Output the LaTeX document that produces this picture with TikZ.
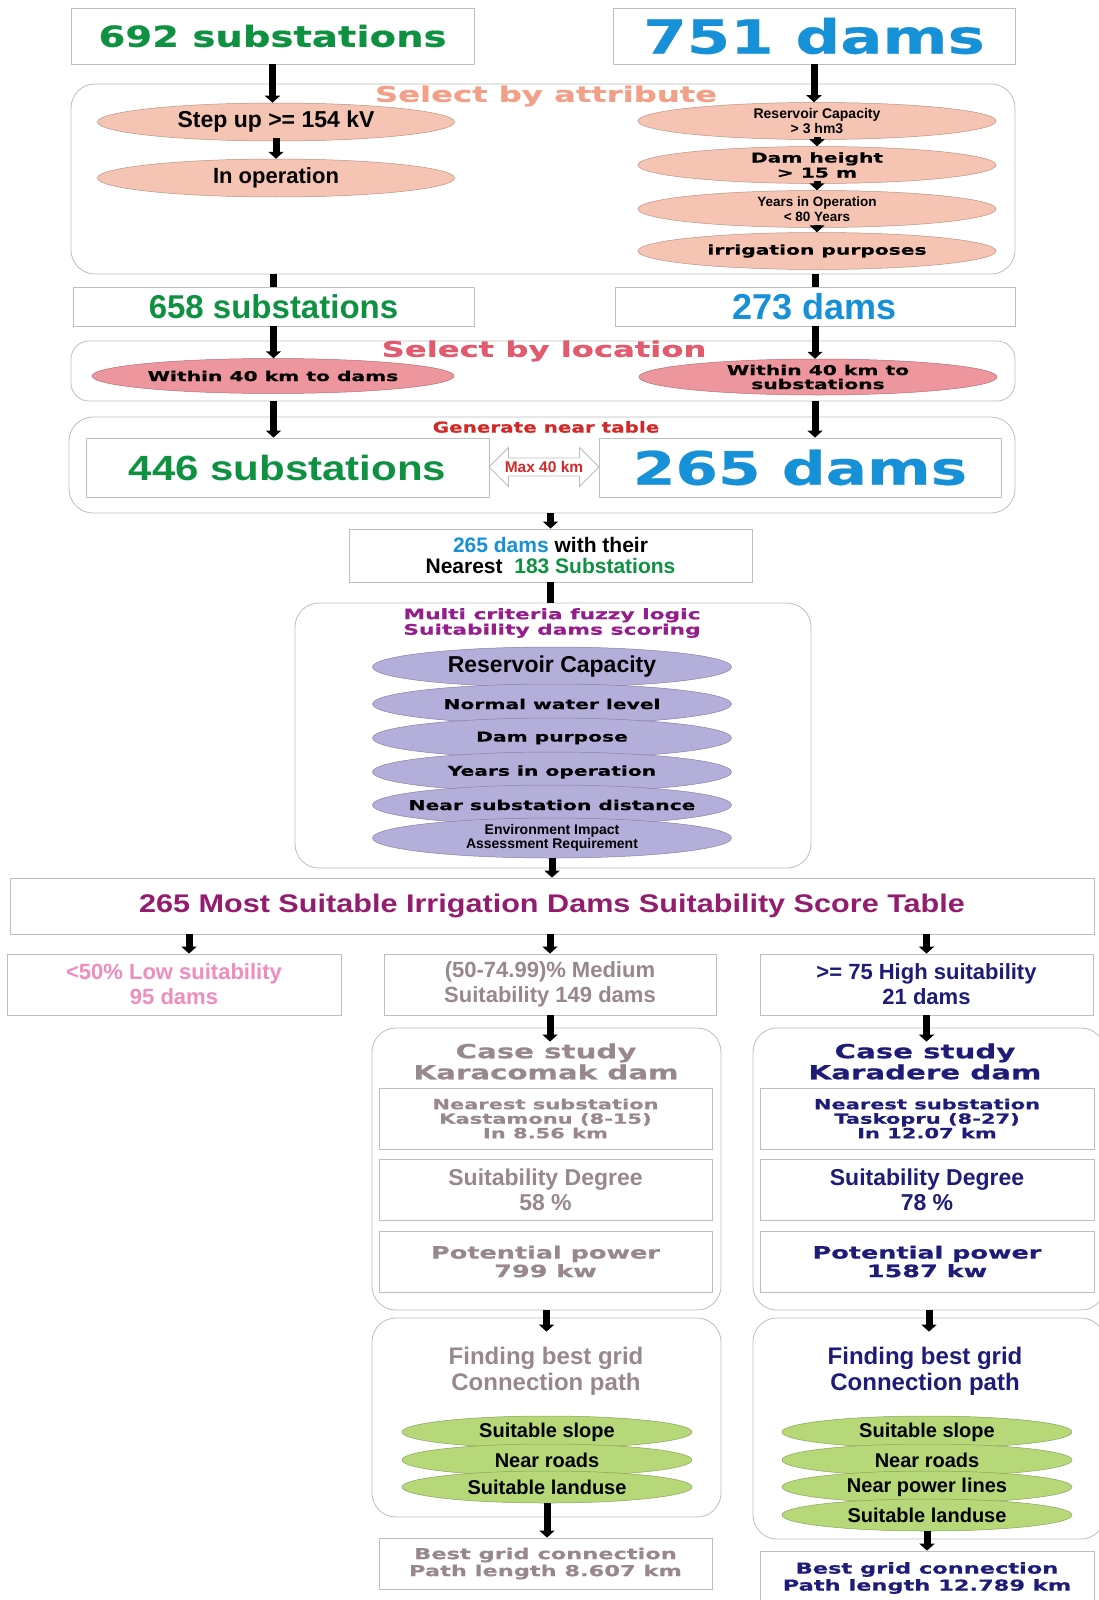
\documentclass[tikz,border=0pt]{standalone}
\usepackage{fontspec}
\setmainfont{Liberation Sans}
\newfontfamily\widefnt[FakeStretch=1.5, FakeBold=0.5]{DejaVu Sans}
\newfontfamily\midfnt[FakeStretch=1.33, FakeBold=0.5]{DejaVu Sans}
\newfontfamily\lswfnt[FakeStretch=1.2]{Liberation Sans}
\usetikzlibrary{arrows.meta, positioning, shapes.geometric, shapes.arrows}

\newcommand{\fsz}[2]{\fontsize{#1}{#2}\selectfont}

\definecolor{subgreen}{RGB}{14,146,66}
\definecolor{damblue}{RGB}{22,144,214}
\definecolor{attrtitle}{RGB}{243,160,136}
\definecolor{attrfill}{RGB}{246,196,178}
\definecolor{loctitle}{RGB}{226,90,110}
\definecolor{locfill}{RGB}{238,150,158}
\definecolor{nearred}{RGB}{210,40,40}
\definecolor{fuzzy}{RGB}{150,30,140}
\definecolor{scorepurple}{RGB}{148,28,110}
\definecolor{lavender}{RGB}{180,174,218}
\definecolor{lowpink}{RGB}{240,140,190}
\definecolor{medgray}{RGB}{152,136,140}
\definecolor{highnavy}{RGB}{30,28,120}
\definecolor{leafgreen}{RGB}{182,216,120}
\definecolor{boxgray}{RGB}{190,190,190}

\begin{document}
\begin{tikzpicture}[x=1pt, y=-1pt, >=Stealth,
  box/.style={draw=boxgray, fill=white, line width=0.8pt, inner sep=0pt, align=center},
  panel/.style={draw=boxgray, fill=white, line width=0.8pt, rounded corners=24pt, inner sep=0pt},
  oval/.style={ellipse, draw=#1!75!black, line width=0.5pt, fill=#1, inner xsep=-60pt, inner ysep=-5pt, align=center},
  heading/.style={align=center, inner sep=0pt},
  flow/.style={line width=7pt, -{Triangle[width=15pt, length=7pt]}},
  link/.style={line width=7pt}]

\useasboundingbox (0,0) rectangle (1099,1600);
\fill[white] (0,0) rectangle (1099,1600);

% starting datasets
\node[box, minimum width=403, minimum height=56, text=subgreen, font=\midfnt\bfseries\fsz{29}{30}] (s692) at (272.5,36) {692 substations};
\node[box, minimum width=402, minimum height=56, text=damblue, font=\midfnt\bfseries\fsz{47}{48}] (d751) at (814,36) {751 dams};

% select by attribute
\node[panel, minimum width=944, minimum height=190] (attr) at (543,179) {};
\node[heading, text=attrtitle, font=\widefnt\bfseries\fsz{21.5}{22}] (attrT) at (546,96) {Select by attribute};
\node[oval=attrfill, minimum width=357, minimum height=38, font=\bfseries\fsz{23}{24}] (stepup) at (276,122) {Step up >= 154 kV};
\node[oval=attrfill, minimum width=357, minimum height=38, font=\bfseries\fsz{22}{23}] (inop) at (276,178) {In operation};
\node[oval=attrfill, minimum width=358, minimum height=37, font=\bfseries\fsz{14}{15}] (rescap) at (817,121) {Reservoir Capacity\\> 3 hm3};
\node[oval=attrfill, minimum width=358, minimum height=37, font=\widefnt\bfseries\fsz{13.5}{15}] (damh) at (817,165) {Dam height\\> 15 m};
\node[oval=attrfill, minimum width=358, minimum height=37, font=\bfseries\fsz{13.5}{15}] (yrsop) at (817,209) {Years in Operation\\< 80 Years};
\node[oval=attrfill, minimum width=358, minimum height=37, font=\widefnt\bfseries\fsz{13.5}{15}] (irrig) at (817,251) {irrigation purposes};

\node[box, minimum width=401, minimum height=39, text=subgreen, font=\bfseries\fsz{33}{34}] (s658) at (273.5,306.5) {658 substations};
\node[box, minimum width=400, minimum height=39, text=damblue, font=\bfseries\fsz{36}{37}] (d273) at (815,306.5) {273 dams};

% select by location
\node[panel, minimum width=944, minimum height=60, rounded corners=18pt] (loc) at (543,371) {};
\node[heading, text=loctitle, font=\widefnt\bfseries\fsz{21.5}{22}] (locT) at (544,351) {Select by location};
\node[oval=locfill, minimum width=362, minimum height=35, font=\widefnt\bfseries\fsz{13.5}{14}] (wl) at (273,376) {Within 40 km to dams};
\node[oval=locfill, minimum width=358, minimum height=36, font=\widefnt\bfseries\fsz{13.5}{14}] (wr) at (818,377) {Within 40 km to\\substations};

% near table
\node[panel, minimum width=946, minimum height=96] (near) at (542,465) {};
\node[heading, text=nearred, font=\midfnt\bfseries\fsz{15}{16}] (nearT) at (546,427) {Generate near table};
\node[box, minimum width=403, minimum height=59, text=subgreen, font=\lswfnt\bfseries\fsz{35}{36}] (s446) at (287.5,467.5) {446 substations};
\node[box, minimum width=402, minimum height=59, text=damblue, font=\midfnt\bfseries\fsz{46}{47}] (d265) at (800,467.5) {265 dams};
\node[double arrow, draw=boxgray, fill=white, line width=0.8pt, minimum height=110,
  double arrow head extend=10.5pt, inner xsep=-18pt, inner ysep=3pt, text=nearred,
  font=\bfseries\fsz{15.5}{16}] (maxkm) at (544,467) {Max 40 km};

\node[box, minimum width=403, minimum height=53, font=\bfseries\fsz{21}{21}] (nearest) at (550.5,555.5)
  {{\color{damblue}265 dams} with their\\Nearest\ \ {\color{subgreen}183 Substations}};

% fuzzy scoring
\node[panel, minimum width=516, minimum height=265] (multi) at (553,735.5) {};
\node[heading, text=fuzzy, font=\widefnt\bfseries\fsz{14.5}{15.5}] (multiT) at (552,623) {Multi criteria fuzzy logic\\Suitability dams scoring};
\node[oval=lavender, minimum width=359, minimum height=40, font=\bfseries\fsz{23}{24}] (rescapB) at (552,667) {Reservoir Capacity};
\node[oval=lavender, minimum width=359, minimum height=40, font=\widefnt\bfseries\fsz{13.5}{15}] (waterlvl) at (552,704) {Normal water level};
\node[oval=lavender, minimum width=359, minimum height=40, font=\widefnt\bfseries\fsz{13.5}{15}] (purpose) at (552,738) {Dam purpose};
\node[oval=lavender, minimum width=359, minimum height=40, font=\widefnt\bfseries\fsz{13.5}{15}] (yrsopB) at (552,772) {Years in operation};
\node[oval=lavender, minimum width=359, minimum height=40, font=\widefnt\bfseries\fsz{13.5}{15}] (subdist) at (552,805) {Near substation distance};
\node[oval=lavender, minimum width=359, minimum height=40, font=\bfseries\fsz{14}{14}] (envir) at (552,838) {Environment Impact\\Assessment Requirement};

% score table and classes
\node[box, minimum width=1084, minimum height=56, text=scorepurple, font=\lswfnt\bfseries\fsz{25.5}{26}] (score) at (552,906)
  {265 Most Suitable Irrigation Dams Suitability Score Table};
\node[box, minimum width=334, minimum height=61, text=lowpink, font=\bfseries\fsz{22}{25}] (low) at (174,984.5) {<50\% Low suitability\\95 dams};
\node[box, minimum width=332, minimum height=61, text=medgray, font=\bfseries\fsz{22}{25}] (med) at (550,984.5) {(50-74.99)\% Medium\\Suitability 149 dams};
\node[box, minimum width=333, minimum height=61, text=highnavy, font=\bfseries\fsz{22}{25}] (high) at (926.5,984.5) {>= 75 High suitability\\21 dams};

% case studies
\node[panel, minimum width=349, minimum height=282] (caseA) at (546.5,1169) {};
\node[panel, minimum width=352, minimum height=282] (caseB) at (929,1169) {};
\node[heading, text=medgray, font=\widefnt\bfseries\fsz{19.5}{21}] (caseAT) at (546,1061.5) {Case study\\Karacomak dam};
\node[heading, text=highnavy, font=\widefnt\bfseries\fsz{19.5}{21}] (caseBT) at (925,1061.5) {Case study\\Karadere dam};
\node[box, minimum width=333, minimum height=61, text=medgray, font=\widefnt\bfseries\fsz{14}{14.5}] (nearA) at (545.5,1118.5) {Nearest substation\\Kastamonu (8-15)\\In 8.56 km};
\node[box, minimum width=333, minimum height=61, text=medgray, font=\bfseries\fsz{23}{25}] (degA) at (545.5,1189.5) {Suitability Degree\\58 \%};
\node[box, minimum width=333, minimum height=61, text=medgray, font=\widefnt\bfseries\fsz{17}{18.5}] (powA) at (545.5,1261.5) {Potential power\\799 kw};
\node[box, minimum width=334, minimum height=61, text=highnavy, font=\widefnt\bfseries\fsz{14}{14.5}] (nearB) at (927,1118.5) {Nearest substation\\Taskopru (8-27)\\In 12.07 km};
\node[box, minimum width=334, minimum height=61, text=highnavy, font=\bfseries\fsz{23}{25}] (degB) at (927,1189.5) {Suitability Degree\\78 \%};
\node[box, minimum width=334, minimum height=61, text=highnavy, font=\widefnt\bfseries\fsz{17}{18.5}] (powB) at (927,1261.5) {Potential power\\1587 kw};

% grid connection path
\node[panel, minimum width=349, minimum height=199] (findA) at (546.5,1417.5) {};
\node[panel, minimum width=352, minimum height=221] (findB) at (929,1428.5) {};
\node[heading, text=medgray, font=\bfseries\fsz{24}{26}] (findAT) at (546,1371) {Finding best grid\\Connection path};
\node[heading, text=highnavy, font=\bfseries\fsz{24}{26}] (findBT) at (925,1371) {Finding best grid\\Connection path};
\node[oval=leafgreen, minimum width=290, minimum height=32, font=\bfseries\fsz{20}{21}] (slopeA) at (547,1432) {Suitable slope};
\node[oval=leafgreen, minimum width=290, minimum height=32, font=\bfseries\fsz{20}{21}] (roadA) at (547,1460) {Near roads};
\node[oval=leafgreen, minimum width=290, minimum height=32, font=\bfseries\fsz{20}{21}] (landA) at (547,1487) {Suitable landuse};
\node[oval=leafgreen, minimum width=290, minimum height=32, font=\bfseries\fsz{20}{21}] (slopeB) at (927,1432) {Suitable slope};
\node[oval=leafgreen, minimum width=290, minimum height=32, font=\bfseries\fsz{20}{21}] (roadB) at (927,1460) {Near roads};
\node[oval=leafgreen, minimum width=290, minimum height=32, font=\bfseries\fsz{20}{21}] (lineB) at (927,1487) {Near power lines};
\node[oval=leafgreen, minimum width=290, minimum height=32, font=\bfseries\fsz{20}{21}] (landB) at (927,1515) {Suitable landuse};
\node[box, minimum width=333, minimum height=51, text=medgray, font=\widefnt\bfseries\fsz{15}{17}] (bestA) at (545.5,1563.5) {Best grid connection\\Path length 8.607 km};
\node[box, minimum width=334, minimum height=54, text=highnavy, font=\widefnt\bfseries\fsz{15}{17}] (bestB) at (927,1578) {Best grid connection\\Path length 12.789 km};

% flow arrows
\coordinate (lowtop) at ([xshift=15pt]low.north);
\coordinate (caseAin) at ([yshift=-14pt]caseA.north);
\coordinate (caseBin) at ([yshift=-14pt]caseB.north);
\coordinate (findAin) at ([yshift=-14pt]findA.north);
\coordinate (findBin) at ([yshift=-14pt]findB.north);

\draw[flow] (s692.south) -- (s692.south |- stepup.north);
\draw[flow] ([yshift=3pt]stepup.south) -- (inop.north);
\draw[flow] (d751.south) -- (d751.south |- rescap.north);
\draw[flow] ([yshift=3pt]rescap.south) -- (damh.north);
\draw[flow] ([yshift=3pt]damh.south) -- (yrsop.north);
\draw[flow] ([yshift=3pt]yrsop.south) -- (irrig.north);
\draw[link] (attr.south -| s658) -- (s658.north);
\draw[link] (attr.south -| d273) -- (d273.north);
\draw[flow] (s658.south) -- (s658.south |- wl.north);
\draw[flow] (d273.south) -- (d273.south |- wr.north);
\draw[flow] (loc.south -| s658) -- (s446.north -| s658);
\draw[flow] (loc.south -| d273) -- (d265.north -| d273);
\draw[flow] (near.south -| nearest) -- (nearest.north);
\draw[link] (nearest.south) -- (nearest.south |- multi.north);
\draw[flow] (envir.south) -- (envir.south |- score.north);
\draw[flow] (score.south -| lowtop) -- (lowtop);
\draw[flow] (score.south -| med) -- (med.north);
\draw[flow] (score.south -| high) -- (high.north);
\draw[flow] (med.south) -- (med.south |- caseAin);
\draw[flow] (high.south) -- (high.south |- caseBin);
\draw[flow] (caseA.south) -- (caseA.south |- findAin);
\draw[flow] (caseB.south) -- (caseB.south |- findBin);
\draw[flow] (landA.south) -- (landA.south |- bestA.north);
\draw[flow] (landB.south) -- (landB.south |- bestB.north);

\end{tikzpicture}
\end{document}
